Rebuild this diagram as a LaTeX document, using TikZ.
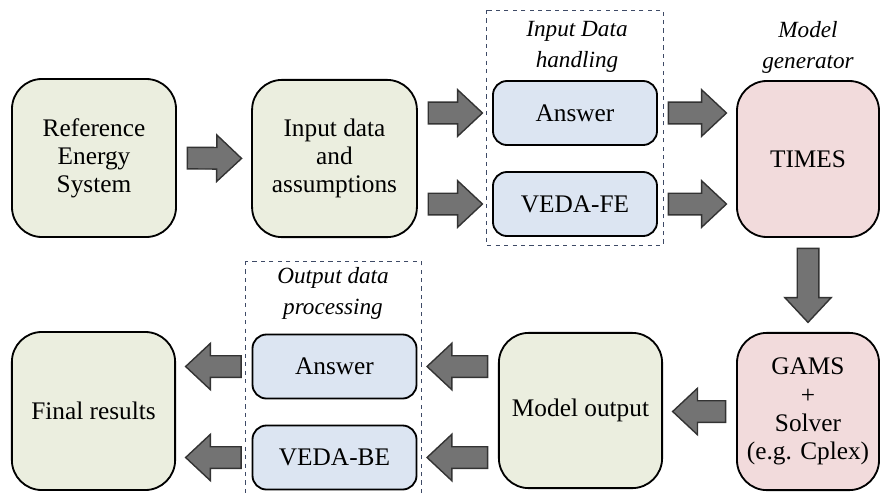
\documentclass[tikz,border=0pt]{standalone}
\usepackage{fontspec}
\setmainfont{Liberation Serif}
\usetikzlibrary{calc}
\definecolor{boxgreen}{HTML}{EBEEDF}
\definecolor{boxblue}{HTML}{DCE5F2}
\definecolor{boxpink}{HTML}{F2DBDC}
\definecolor{arrowgray}{HTML}{737373}
\definecolor{dashblue}{HTML}{3E4A66}
\tikzset{
  bigbox/.style={draw=black,line width=1.3pt,rounded corners=0.75cm,align=center,
    font=\fontsize{18}{20}\selectfont,inner sep=0pt},
  toolbox/.style={draw=black,line width=1.3pt,rounded corners=0.35cm,fill=boxblue,
    minimum width=4.1cm,minimum height=1.6cm,font=\fontsize{18}{20}\selectfont},
  groupbox/.style={draw=dashblue,dashed,line width=0.6pt},
  grouplabel/.style={align=center,font=\fontsize{16.5}{22}\selectfont\itshape},
  fatarrow/.style={draw=black!80,line width=1pt,fill=arrowgray,line join=miter}
}
% block arrow between two points, kept off the boxes a little
\newcommand{\fatarrow}[2]{%
  \path (#1) coordinate (fa-s) (#2) coordinate (fa-t);
  \path ($(fa-s)!0.26cm!(fa-t)$) coordinate (fa-a)
        ($(fa-t)!0.24cm!(fa-s)$) coordinate (fa-b);
  \path ($(fa-b)!0.62cm!(fa-a)$) coordinate (fa-h);
  \filldraw[fatarrow] ($(fa-a)!0.27cm!90:(fa-b)$) -- ($(fa-h)!0.27cm!90:(fa-b)$)
    -- ($(fa-h)!0.58cm!90:(fa-b)$) -- (fa-b) -- ($(fa-h)!0.58cm!-90:(fa-b)$)
    -- ($(fa-h)!0.27cm!-90:(fa-b)$) -- ($(fa-a)!0.27cm!-90:(fa-b)$) -- cycle;}
\begin{document}
\begin{tikzpicture}[x=0.025cm,y=-0.025cm]
  \useasboundingbox (0,0) rectangle (880,495);
  \begin{scope}
  \clip (0,0) rectangle (880,495);
  % dashed groups
  \draw[groupbox] (486,10) rectangle (663,245);
  \draw[groupbox] (245,261) rectangle (421,500);
  \node[grouplabel] (inlab) at (577,47) {Input Data\\handling};
  \node[grouplabel] (genlab) at (808,47) {Model\\generator};
  \node[grouplabel] (outlab) at (333,293) {Output data\\processing};
  % top row
  \node[bigbox,fill=boxgreen,minimum width=4.1cm,minimum height=3.95cm] (res) at (94,158) {Reference\\Energy\\System};
  \node[bigbox,fill=boxgreen,minimum width=4.12cm,minimum height=3.93cm] (inp) at (334.5,158.5) {Input data\\and\\assumptions};
  \node[toolbox] (ans1) at (575,113) {Answer};
  \node[toolbox] (fe) at (575,204) {VEDA-FE};
  \node[bigbox,fill=boxpink,minimum width=3.55cm,minimum height=3.9cm] (times) at (808,159) {TIMES};
  % bottom row
  \node[bigbox,fill=boxpink,minimum width=3.55cm,minimum height=3.93cm] (gams) at (808,411.5) {GAMS\\+\\Solver\\(e.g. Cplex)};
  \node[bigbox,fill=boxgreen,minimum width=4.08cm,minimum height=3.88cm] (mout) at (580.5,410.5) {Model output};
  \node[toolbox] (ans2) at (334.5,366.5) {Answer};
  \node[toolbox] (be) at (334.5,457.5) {VEDA-BE};
  \node[bigbox,fill=boxgreen,minimum width=4.08cm,minimum height=3.95cm] (fin) at (93.5,411) {Final results};
  % flow
  \fatarrow{res.east}{inp.west}
  \fatarrow{inp.east |- ans1.west}{ans1.west}
  \fatarrow{inp.east |- fe.west}{fe.west}
  \fatarrow{ans1.east}{times.west |- ans1.east}
  \fatarrow{fe.east}{times.west |- fe.east}
  \fatarrow{times.south}{gams.north}
  \fatarrow{gams.west}{mout.east |- gams.west}
  \fatarrow{mout.west |- ans2.east}{ans2.east}
  \fatarrow{mout.west |- be.east}{be.east}
  \fatarrow{ans2.west}{fin.east |- ans2.west}
  \fatarrow{be.west}{fin.east |- be.west}
  \end{scope}
\end{tikzpicture}
\end{document}
